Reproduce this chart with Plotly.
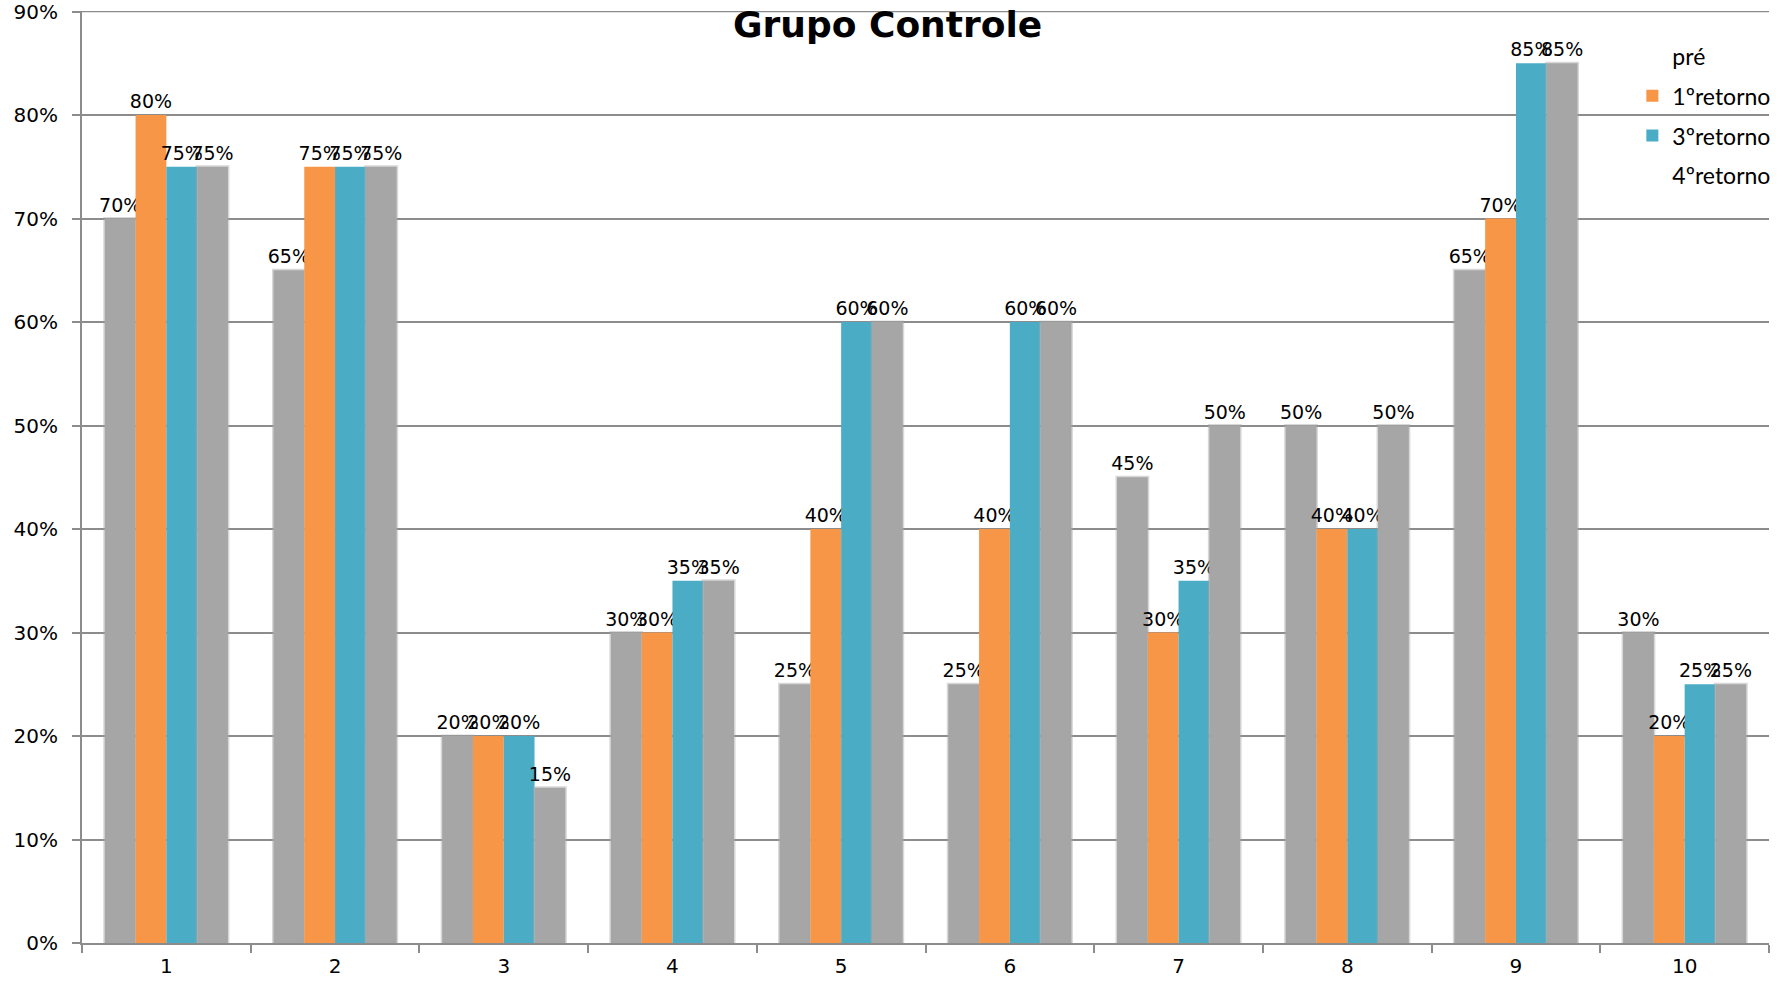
import plotly.graph_objects as go

categories = ["1", "2", "3", "4", "5", "6", "7", "8", "9", "10"]
pre = [0.70, 0.65, 0.20, 0.30, 0.25, 0.25, 0.45, 0.50, 0.65, 0.30]
ret1 = [0.80, 0.75, 0.20, 0.30, 0.40, 0.40, 0.30, 0.40, 0.70, 0.20]
ret3 = [0.75, 0.75, 0.20, 0.35, 0.60, 0.60, 0.35, 0.40, 0.85, 0.25]
ret4 = [0.75, 0.75, 0.15, 0.35, 0.60, 0.60, 0.50, 0.50, 0.85, 0.25]
series_names = ["pré", "1ºretorno", "3ºretorno", "4ºretorno"]
y_ticks = [0, 0.1, 0.2, 0.3, 0.4, 0.5, 0.6, 0.7, 0.8, 0.9]

GRAY = "#A6A6A6"
ORANGE = "#F79646"
TEAL = "#4BACC6"
GRID = "#8C8C8C"
LABEL_FONT = dict(family="DejaVu Sans", size=19, color="black")

fig = go.Figure()

def bar(vals, color, name, show, soft=False):
    line = dict(width=3, color="rgba(166,166,166,0.45)") if soft else dict(width=0)
    return go.Bar(
        x=categories, y=vals, name=name, marker=dict(color=color, line=line),
        texttemplate="%{y:.0%}", textposition="outside", textfont=LABEL_FONT,
        constraintext="none", cliponaxis=False, showlegend=show,
        legendgroup=name, hoverinfo="skip",
    )

fig.add_trace(bar(pre, GRAY, series_names[0], False, soft=True))
fig.add_trace(bar(ret1, ORANGE, series_names[1], True))
fig.add_trace(bar(ret3, TEAL, series_names[2], True))
fig.add_trace(bar(ret4, GRAY, series_names[3], False, soft=True))

# legend-only entries without a visible swatch (as in the reference)
for nm in (series_names[0], series_names[3]):
    fig.add_trace(go.Scatter(
        x=[None], y=[None], mode="markers", name=nm, legendgroup=nm,
        marker=dict(opacity=0, color="white"), showlegend=True,
    ))

ranks = {series_names[0]: 1, series_names[1]: 2, series_names[2]: 3, series_names[3]: 4}
for tr in fig.data:
    tr.legendrank = ranks[tr.name]

fig.update_layout(
    width=1791, height=981,
    margin=dict(l=82, r=22, t=11, b=38, autoexpand=False),
    paper_bgcolor="white", plot_bgcolor="white",
    barmode="group", bargap=0.27, bargroupgap=0,
    showlegend=True,
    legend=dict(
        x=0.919, y=0.975, xanchor="left", yanchor="top",
        font=dict(family="Lato", size=23, color="black"),
        bgcolor="rgba(0,0,0,0)", tracegroupgap=7, traceorder="grouped",
    ),
    font=dict(family="DejaVu Sans", color="black"),
    annotations=[dict(
        text="<b>Grupo Controle</b>",
        x=(887 - 82) / 1687, y=1 - (25 - 11) / 932, xref="paper", yref="paper",
        yanchor="middle", showarrow=False,
        font=dict(family="DejaVu Sans", size=36, color="black"),
    )],
    shapes=[dict(
        type="line", xref="paper", yref="y", x0=0, x1=1, y0=y_ticks[-1], y1=y_ticks[-1],
        line=dict(color=GRID, width=1.5), layer="below",
    )],
)

fig.update_yaxes(
    range=[0, 0.9006], tickvals=y_ticks, tickformat=".0%", automargin=False,
    ticklabeloverflow="allow",
    showgrid=True, gridcolor=GRID, gridwidth=1.5,
    showline=True, linecolor=GRID, linewidth=2,
    ticks="outside", ticklen=8, tickcolor=GRID, tickwidth=2,
    ticklabelstandoff=10,
    tickfont=dict(family="DejaVu Sans", size=20, color="black"),
    zeroline=False,
)
fig.update_xaxes(
    automargin=False,
    showline=True, linecolor=GRID, linewidth=2,
    ticks="outside", tickson="boundaries", ticklen=8, tickcolor=GRID, tickwidth=2,
    ticklabelstandoff=4,
    tickfont=dict(family="DejaVu Sans", size=20, color="black"),
    showgrid=False,
)

fig.write_html("out.html")
